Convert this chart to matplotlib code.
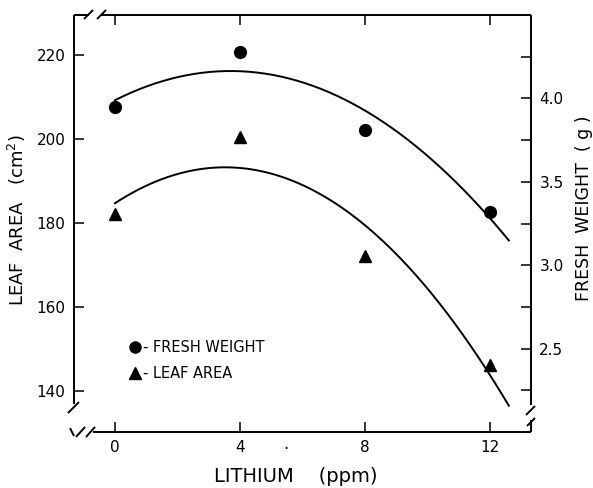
import numpy as np
import matplotlib
matplotlib.use("Agg")
import matplotlib.pyplot as plt
from matplotlib.lines import Line2D

# ---- data ----
lithium = [0, 4, 8, 12]
fresh_weight = [3.95, 4.28, 3.81, 3.32]      # g (right axis)
leaf_area = [182.2, 200.5, 172.0, 146.2]     # cm^2 (left axis)
x_ticks = [0, 4, 8, 12]
left_ticks = [140, 160, 180, 200, 220]
right_ticks = [2.5, 3.0, 3.5, 4.0]
right_minor = [2.25, 2.75, 3.25, 3.75, 4.25]
right_ticklabels = ["2.5", "3.0", "3.5", "4.0"]

plt.rcParams['font.family'] = ['DejaVu Sans']

W, H = 593, 488
fig = plt.figure(figsize=(W / 100, H / 100), dpi=100)
L, R, T, B = 74, 531, 15, 432
ax = fig.add_axes([L / W, 1 - B / H, (R - L) / W, (B - T) / H])
ax2 = ax.twinx()

ax.set_xlim(-1.31, 13.31)
ax.set_ylim(130.2, 229.5)
ax2.set_ylim(2.0, 4.5)

for a in (ax, ax2):
    for s in a.spines.values():
        s.set_visible(False)
    a.patch.set_visible(False)

ax.set_xticks(x_ticks)
ax.set_xticklabels([str(v) for v in x_ticks])
ax.set_yticks(left_ticks)
ax.set_yticklabels([str(v) for v in left_ticks])
ax2.set_yticks(right_ticks)
ax2.set_yticklabels(right_ticklabels)
ax2.set_yticks(right_minor, minor=True)

ax.tick_params(axis='both', direction='in', length=7.2, width=1.1,
               labelsize=11, color='black')
ax.tick_params(axis='x', top=True, pad=6)
ax.tick_params(axis='y', right=False, pad=6)
ax2.tick_params(axis='y', which='both', direction='in', length=7.2,
                width=1.1, labelsize=11, pad=6)

# fitted curves (quadratic regression of the data)
xs = np.linspace(0, 12.6, 200)
cf = np.polyfit(lithium, fresh_weight, 2)
cl = np.polyfit(lithium, leaf_area, 2)
ax2.plot(xs, np.polyval(cf, xs), color='black', lw=1.4)
ax.plot(xs, np.polyval(cl, xs), color='black', lw=1.4)

ax2.plot(lithium, fresh_weight, 'o', ms=8.5, color='black')
ax.plot(lithium, leaf_area, '^', ms=9, color='black')

handles = [Line2D([], [], marker='o', ls='', color='black', ms=8),
           Line2D([], [], marker='^', ls='', color='black', ms=8.5)]
ax2.legend(handles=handles, labels=['- FRESH WEIGHT', '- LEAF AREA'],
           loc='upper left',
           bbox_to_anchor=((130 - L) / (R - L), (B - 340) / (B - T)),
           frameon=False, handlelength=0.7, handletextpad=0.2,
           labelspacing=0.75, fontsize=10.5, borderaxespad=0, borderpad=0)

# hand-drawn frame with axis breaks (pixel coordinates)
def seg(x0, y0, x1, y1, lw=1.4):
    fig.add_artist(Line2D([x0 / W, x1 / W], [1 - y0 / H, 1 - y1 / H],
                          transform=fig.transFigure, color='black', lw=lw,
                          solid_capstyle='butt'))

# left spine
seg(L, T, L, 404)
seg(68, 413, 79, 402)
# top spine
seg(L, T, 89, T)
seg(84, 19, 93, 10)
seg(97, 19, 106, 10)
seg(101, T, R, T)
# bottom spine
seg(70, 428, 74, 436)
seg(76, 437, 85, 427)
seg(86, 437, 95, 427)
seg(93, B, R, B)
# right spine
seg(R, T, R, 405)
seg(526, 415, 535, 406)
seg(527, 426, 535, 418)
seg(R, 420, R, B)

fig.text(296 / W, 1 - 476 / H, 'LITHIUM    (ppm)', ha='center', va='center',
         fontsize=14)
fig.text(17 / W, 1 - 220 / H, 'LEAF  AREA   (cm$^2$)', ha='center',
         va='center', rotation=90, fontsize=13)
fig.text(584 / W, 1 - 208 / H, 'FRESH  WEIGHT  ( g )', ha='center',
         va='center', rotation=90, fontsize=12.5)
fig.text(286 / W, 1 - 444 / H, '.', ha='center', va='center', fontsize=12)

fig.savefig('out.png', dpi=100)
